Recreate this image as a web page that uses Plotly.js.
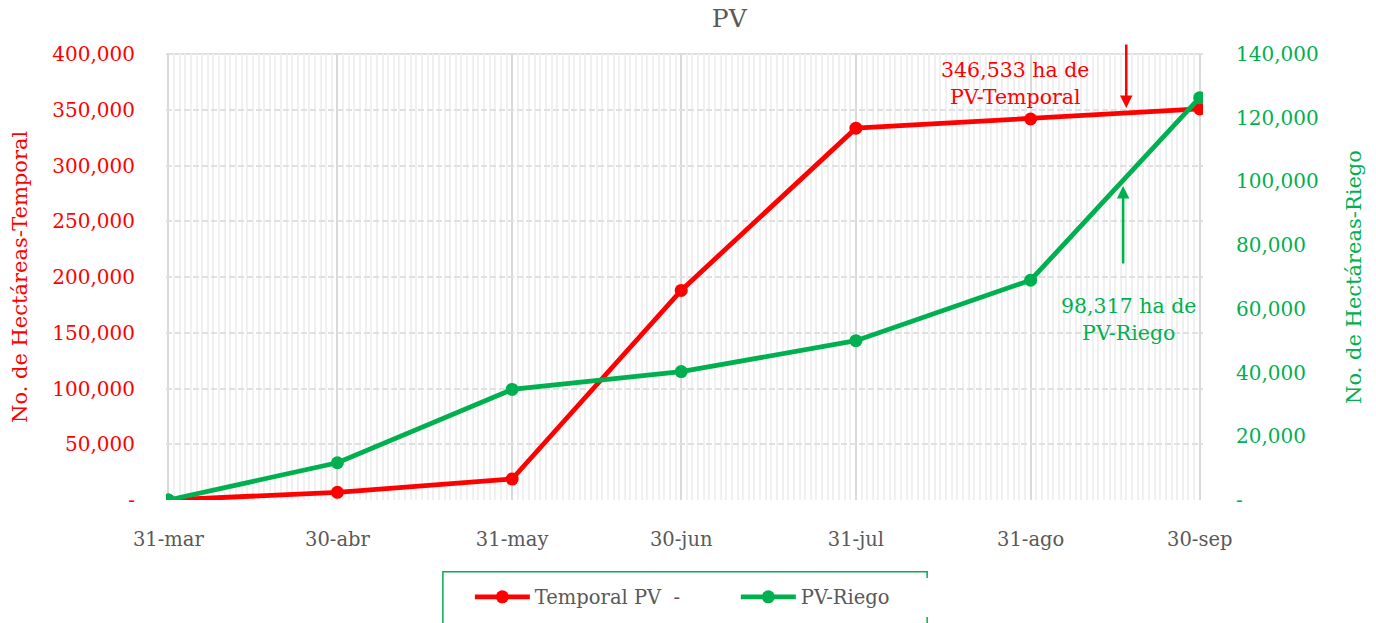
<!DOCTYPE html>
<html>
<head>
<meta charset="utf-8">
<script src="https://cdn.plot.ly/plotly-3.0.1.min.js"></script>
<style>html,body{margin:0;padding:0;background:#fff;}#chart{width:1376px;height:623px;}</style>
</head>
<body>
<div id="chart"></div>
<script>
const dates = ['2023-03-31','2023-04-30','2023-05-31','2023-06-30','2023-07-31','2023-08-31','2023-09-30'];
const tickLabels = ['31-mar','30-abr','31-may','30-jun','31-jul','31-ago','30-sep'];
const temporal = [0, 6900, 18800, 188000, 333500, 341700, 350700];
const riego = [0, 11700, 34700, 40300, 50000, 69000, 126300];
const leftTicks = [0, 50000, 100000, 150000, 200000, 250000, 300000, 350000, 400000];
const leftTickText = ['-', '50,000', '100,000', '150,000', '200,000', '250,000', '300,000', '350,000', '400,000'];
const rightTicks = [0, 20000, 40000, 60000, 80000, 100000, 120000, 140000];
const rightTickText = ['-', '20,000', '40,000', '60,000', '80,000', '100,000', '120,000', '140,000'];

const RED = '#ff0000', GREEN = '#00b050', GREY = '#595959';
const FONT = 'DejaVu Serif, Liberation Serif, serif';

const traces = [
  {x: dates, y: temporal, name: 'Temporal PV  -', type: 'scatter', mode: 'lines+markers',
   line: {color: RED, width: 4.8}, marker: {color: RED, size: 13}, yaxis: 'y'},
  {x: dates, y: riego, name: 'PV-Riego', type: 'scatter', mode: 'lines+markers',
   line: {color: GREEN, width: 4.8}, marker: {color: GREEN, size: 13}, yaxis: 'y2'}
];

const layout = {
  width: 1376, height: 623,
  margin: {l: 166, r: 173, t: 54, b: 123, autoexpand: false},
  paper_bgcolor: '#fff', plot_bgcolor: '#fff',
  font: {family: FONT, color: GREY, size: 19},
  title: {text: 'PV', font: {family: FONT, size: 25, color: GREY}, x: 0.53, xanchor: 'center', y: 0.985, yanchor: 'top'},
  showlegend: true,
  legend: {orientation: 'h', x: 0.293, xanchor: 'left', y: -0.174, yanchor: 'top',
    borderwidth: 0, font: {family: FONT, size: 19.5, color: GREY},
    entrywidth: 196, itemwidth: 55},
  shapes: [
    {type: 'rect', xref: 'paper', yref: 'paper', x0: 0.267, x1: 0.734, y0: -0.161, y1: -0.3,
     line: {color: GREEN, width: 1.5}, fillcolor: 'rgba(0,0,0,0)'},
    {type: 'line', xref: 'paper', yref: 'paper', x0: 0, x1: 1, y0: 1, y1: 1, layer: 'below',
     line: {color: '#e0e0e0', width: 2}}
  ],
  xaxis: {
    type: 'date', range: ['2023-03-30 14:00', '2023-09-30 14:00'],
    tickvals: dates, ticktext: tickLabels, tickfont: {family: FONT, size: 19.5, color: GREY},
    showgrid: true, gridcolor: '#d9d9d9', gridwidth: 2, zeroline: false, showline: false,
    ticks: '', ticklabelstandoff: 25,
    minor: {dtick: 86400000, tick0: '2023-03-31', showgrid: true, gridcolor: '#f0f0f0', gridwidth: 2}
  },
  yaxis: {
    range: [0, 400000], tickvals: leftTicks, ticktext: leftTickText,
    tickfont: {family: FONT, size: 20, color: RED},
    showgrid: true, gridcolor: '#e0e0e0', gridwidth: 2, griddash: '6px,3px', zeroline: false,
    ticks: '', ticklabelstandoff: 30
  },
  yaxis2: {
    overlaying: 'y', side: 'right', range: [0, 140000], tickvals: rightTicks, ticktext: rightTickText,
    tickfont: {family: FONT, size: 20, color: GREEN}, showgrid: false, zeroline: false,
    ticks: '', ticklabelstandoff: 32,
    title: {text: 'No. de Hectáreas-Riego', font: {family: FONT, size: 21, color: GREEN}, standoff: 28}
  },
  annotations: [
    {xref: 'paper', yref: 'paper', x: -0.1408, y: 0.5, xanchor: 'center', yanchor: 'middle', showarrow: false,
     textangle: -90, text: 'No. de Hectáreas-Temporal', font: {family: FONT, size: 21, color: RED}},
    {xref: 'paper', yref: 'paper', x: 0.926, y: 0.879, ax: 0, ay: -65, axref: 'pixel', ayref: 'pixel',
     showarrow: true, arrowhead: 2, arrowsize: 1, arrowwidth: 2.5, arrowcolor: RED, text: ''},
    {xref: 'paper', yref: 'paper', x: 0.923, y: 0.704, ax: 0, ay: 79, axref: 'pixel', ayref: 'pixel',
     showarrow: true, arrowhead: 2, arrowsize: 1, arrowwidth: 2.5, arrowcolor: GREEN, text: ''},
    {xref: 'paper', yref: 'paper', x: 0.819, y: 0.933, xanchor: 'center', yanchor: 'middle', showarrow: false,
     text: '346,533 ha de<br>PV-Temporal', font: {family: FONT, size: 20.5, color: RED}, align: 'center'},
    {xref: 'paper', yref: 'paper', x: 0.928, y: 0.404, xanchor: 'center', yanchor: 'middle', showarrow: false,
     text: '98,317 ha de<br>PV-Riego', font: {family: FONT, size: 20.5, color: GREEN}, align: 'center'}
  ]
};

Plotly.newPlot('chart', traces, layout, {displayModeBar: false, staticPlot: true});
</script>
</body>
</html>
